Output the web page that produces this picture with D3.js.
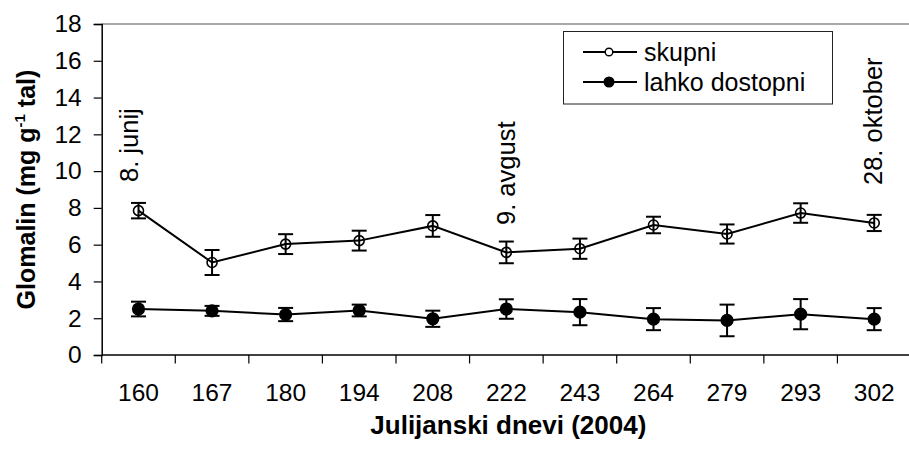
<!DOCTYPE html>
<html>
<head>
<meta charset="utf-8">
<script src="https://cdn.jsdelivr.net/npm/d3@7"></script>
<style>
  html, body { margin: 0; padding: 0; background: #fff; }
  svg { display: block; font-family: Arial, "Liberation Sans", sans-serif; }
</style>
</head>
<body>
<svg id="chart" width="909" height="452"></svg>
<script>
// Julian days of sampling (2004)
const days = ["160", "167", "180", "194", "208", "222", "243", "264", "279", "293", "302"];
// Total glomalin (skupni), mg/g soil, with error half-widths
const skupni = [7.85, 5.03, 6.03, 6.22, 7.02, 5.58, 5.78, 7.07, 6.58, 7.72, 7.18];
const skupniErr = [0.42, 0.68, 0.54, 0.54, 0.59, 0.59, 0.55, 0.45, 0.52, 0.53, 0.44];
// Easily extractable glomalin (lahko dostopni)
const lahko = [2.5, 2.4, 2.2, 2.42, 1.97, 2.5, 2.33, 1.95, 1.88, 2.22, 1.95];
const lahkoErr = [0.4, 0.27, 0.36, 0.32, 0.44, 0.53, 0.71, 0.6, 0.86, 0.82, 0.6];
const yTicks = [0, 2, 4, 6, 8, 10, 12, 14, 16, 18];
// Date notes for selected sampling days
const noteDays = ["160", "222", "302"];
const noteTexts = ["8. junij", "9. avgust", "28. oktober"];
const seriesNames = ["skupni", "lahko dostopni"];

const svg = d3.select("#chart");
const x = d3.scaleBand().domain(days).range([101.7, 911]).padding(0);
const y = d3.scaleLinear().domain([0, 18]).range([355, 24]);
const cx = d => x(d) + x.bandwidth() / 2;

// plot frame (top edge in gray)
svg.append("line")
  .attr("x1", x.range()[0]).attr("x2", 909)
  .attr("y1", y(18)).attr("y2", y(18))
  .attr("stroke", "#8c8c8c").attr("stroke-width", 1.5);

// y axis
const yAxis = svg.append("g")
  .attr("transform", `translate(${x.range()[0]},0)`)
  .call(d3.axisLeft(y).tickValues(yTicks).tickSize(8).tickPadding(12).tickFormat(d3.format("d")));
yAxis.select(".domain").attr("stroke", "#000").attr("stroke-width", 1.5);
yAxis.selectAll(".tick line").attr("stroke", "#000").attr("stroke-width", 1.2);
yAxis.selectAll(".tick text").attr("font-size", 24.5).attr("fill", "#000")
  .attr("font-family", "Arial, 'Liberation Sans', sans-serif");

// x axis: ticks at band boundaries, labels at band centres
const xAxisG = svg.append("g").attr("transform", `translate(0,${y(0)})`);
xAxisG.append("line")
  .attr("x1", x.range()[0]).attr("x2", 909)
  .attr("y1", 0).attr("y2", 0)
  .attr("stroke", "#000").attr("stroke-width", 1.5);
const bounds = days.map(d => x(d)).concat([x.range()[1]]);
xAxisG.selectAll("line.tk").data(bounds).enter().append("line")
  .attr("class", "tk")
  .attr("x1", d => d).attr("x2", d => d)
  .attr("y1", 0).attr("y2", 8.5)
  .attr("stroke", "#000").attr("stroke-width", 1.2);
xAxisG.selectAll("text").data(days).enter().append("text")
  .attr("x", d => cx(d)).attr("y", 46)
  .attr("text-anchor", "middle")
  .attr("font-size", 24.5)
  .text(d => d);

// axis titles
svg.append("text")
  .attr("x", (x.range()[0] + x.range()[1]) / 2 + 2).attr("y", 434)
  .attr("text-anchor", "middle")
  .attr("font-size", 26).attr("font-weight", "bold")
  .text("Julijanski dnevi (2004)");

const yTitle = svg.append("text")
  .attr("transform", `translate(35,${(y(0) + y(18)) / 2}) rotate(-90)`)
  .attr("text-anchor", "middle")
  .attr("font-size", 25).attr("font-weight", "bold");
yTitle.append("tspan").text("Glomalin (mg g");
yTitle.append("tspan").attr("font-size", 15).attr("dy", -10).text("-1");
yTitle.append("tspan").attr("dy", 10).text(" tal)");

// line generator shared by both series
const line = d3.line().x((v, i) => cx(days[i])).y(v => y(v));

function drawSeries(vals, errs, filled, r) {
  const g = svg.append("g");
  g.append("path").datum(vals)
    .attr("d", line).attr("fill", "none")
    .attr("stroke", "#000").attr("stroke-width", 2);
  const eb = g.selectAll("g.eb").data(vals).enter().append("g").attr("class", "eb");
  eb.append("line")
    .attr("x1", (v, i) => cx(days[i])).attr("x2", (v, i) => cx(days[i]))
    .attr("y1", (v, i) => y(v + errs[i])).attr("y2", (v, i) => y(v - errs[i]))
    .attr("stroke", "#000").attr("stroke-width", 2);
  [1, -1].forEach(s => {
    eb.append("line")
      .attr("x1", (v, i) => cx(days[i]) - 7.5).attr("x2", (v, i) => cx(days[i]) + 7.5)
      .attr("y1", (v, i) => y(v + s * errs[i])).attr("y2", (v, i) => y(v + s * errs[i]))
      .attr("stroke", "#000").attr("stroke-width", 2);
  });
  g.selectAll("circle").data(vals).enter().append("circle")
    .attr("cx", (v, i) => cx(days[i])).attr("cy", v => y(v))
    .attr("r", r)
    .attr("fill", filled ? "#000" : "none")
    .attr("stroke", "#000").attr("stroke-width", 1.6);
}
drawSeries(skupni, skupniErr, false, 5);
drawSeries(lahko, lahkoErr, true, 5.8);

// date notes, written upward above their sampling day
const noteShift = [{ dx: 0, y: 182 }, { dx: 9, y: 225 }, { dx: 8, y: 185 }];
svg.selectAll("text.note").data(noteDays).enter().append("text")
  .attr("class", "note")
  .attr("transform", (d, i) => `translate(${cx(d) + noteShift[i].dx},${noteShift[i].y}) rotate(-90)`)
  .attr("font-size", 25.5)
  .text((d, i) => noteTexts[i]);

// legend
const lg = svg.append("g");
lg.append("rect")
  .attr("x", 563.5).attr("y", 31.5).attr("width", 269).attr("height", 72.5)
  .attr("fill", "#fff").attr("stroke", "#222").attr("stroke-width", 1);
seriesNames.forEach((name, i) => {
  const ly = 52 + i * 30;
  lg.append("line").attr("x1", 583).attr("x2", 637).attr("y1", ly).attr("y2", ly)
    .attr("stroke", "#000").attr("stroke-width", 2);
  lg.append("circle").attr("cx", 609).attr("cy", ly).attr("r", i === 0 ? 3.8 : 4.8)
    .attr("fill", i === 0 ? "#fff" : "#000").attr("stroke", "#000").attr("stroke-width", 1.4);
  lg.append("text").attr("x", 644).attr("y", ly + 8.5).attr("font-size", 25).text(name);
});
</script>
</body>
</html>
